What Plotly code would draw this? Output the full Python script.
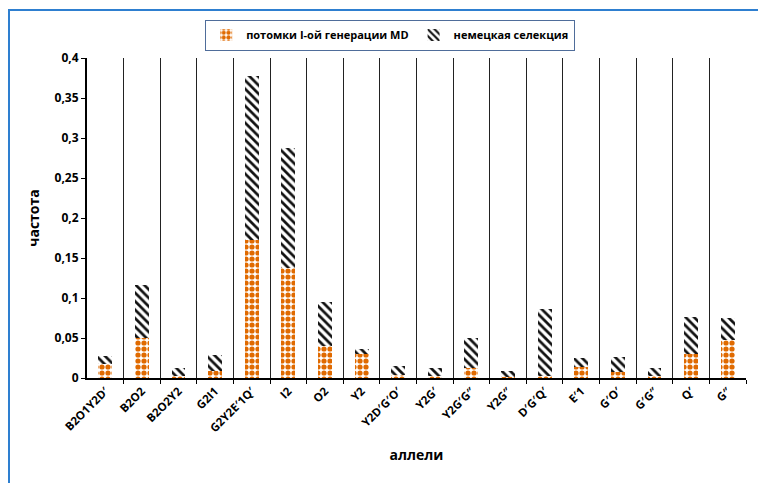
import plotly.graph_objects as go

categories = ["B2O1Y2D'", "B2O2", "B2O2Y2", "G2I1", "G2Y2E'1Q'", "I2", "O2", "Y2",
              "Y2D'G'O'", "Y2G'", "Y2G'G''", "Y2G''", "D'G'Q'", "E'1", "G'O'", "G'G''", "Q'", "G''"]
tick_labels = ["B2O1Y2D\u2032", "B2O2", "B2O2Y2", "G2I1", "G2Y2E\u20321Q\u2032", "I2", "O2", "Y2",
               "Y2D\u2032G\u2032O\u2032", "Y2G\u2032", "Y2G\u2032G\u2033", "Y2G\u2033", "D\u2032G\u2032Q\u2032",
               "E\u20321", "G\u2032O\u2032", "G\u2032G\u2033", "Q\u2032", "G\u2033"]
md_offspring = [0.0175, 0.05, 0.003, 0.009, 0.1725, 0.1375, 0.04, 0.03,
                0.004, 0.002, 0.012, 0.001, 0.002, 0.014, 0.008, 0.002, 0.03, 0.0475]
totals = [0.0275, 0.116, 0.012, 0.029, 0.3775, 0.287, 0.095, 0.036,
          0.015, 0.012, 0.05, 0.009, 0.086, 0.0246, 0.026, 0.012, 0.076, 0.075]
german = [round(t - m, 4) for t, m in zip(totals, md_offspring)]
y_ticks = [0, 0.05, 0.1, 0.15, 0.2, 0.25, 0.3, 0.35, 0.4]
y_tick_text = ["0", "0,05", "0,1", "0,15", "0,2", "0,25", "0,3", "0,35", "0,4"]

x = list(range(len(categories)))
font = "Open Sans"

fig = go.Figure()
fig.add_trace(go.Bar(
    x=x, y=md_offspring, name="<b>потомки I-ой генерации MD</b>", width=0.38,
    marker=dict(color="white", line=dict(width=0),
                pattern=dict(shape=".", fgcolor="#E06A00", bgcolor="white", fgopacity=1,
                             size=6, solidity=0.6)),
))
fig.add_trace(go.Bar(
    x=x, y=german, name="<b>немецкая селекция</b>", width=0.38,
    marker=dict(color="white", line=dict(width=0),
                pattern=dict(shape="\\", fgcolor="#111111", bgcolor="white", fgopacity=1,
                             size=6, solidity=0.45)),
))

fig.update_layout(
    barmode="stack",
    width=766, height=483,
    margin=dict(l=79, r=28, t=50, b=113),
    paper_bgcolor="white", plot_bgcolor="white",
    font=dict(family=font, size=11, color="black"),
    legend=dict(orientation="h", x=0.46, xanchor="center", y=1.12, yanchor="top",
                bordercolor="#4F6D9A", borderwidth=1, font=dict(size=11),
                traceorder="normal", itemwidth=30),
    showlegend=True,
)
fig.update_xaxes(
    range=[-0.5, len(categories) - 0.5],
    tickmode="array", tickvals=x, ticktext=["<b>%s</b>" % t for t in tick_labels],
    tickangle=-45, ticks="", showgrid=False,
    showline=True, linecolor="black", linewidth=2,
    tickfont=dict(size=11.5),
    minor=dict(tickmode="array", tickvals=[i + 0.5 for i in x], ticks="outside", ticklen=4,
               tickcolor="black", showgrid=True, gridcolor="#222222", gridwidth=1),
    title=dict(text="<b>аллели</b>", font=dict(size=14), standoff=16),
    zeroline=False,
)
fig.update_yaxes(
    range=[0, 0.4], tickmode="array", tickvals=y_ticks, ticktext=["<b>%s</b>" % t for t in y_tick_text],
    ticks="outside", ticklen=4, tickcolor="black", showgrid=False,
    showline=True, linecolor="black", linewidth=2, zeroline=False,
    tickfont=dict(size=12),
    title=dict(text="<b>частота</b>", font=dict(size=14), standoff=12),
)
fig.add_shape(type="rect", xref="paper", yref="paper",
              x0=-78 / 659, x1=1.2, y0=-0.5, y1=1 + 48 / 320,
              line=dict(color="#2E7FD0", width=2), fillcolor="rgba(0,0,0,0)", layer="above")

fig.write_html("out.html")
